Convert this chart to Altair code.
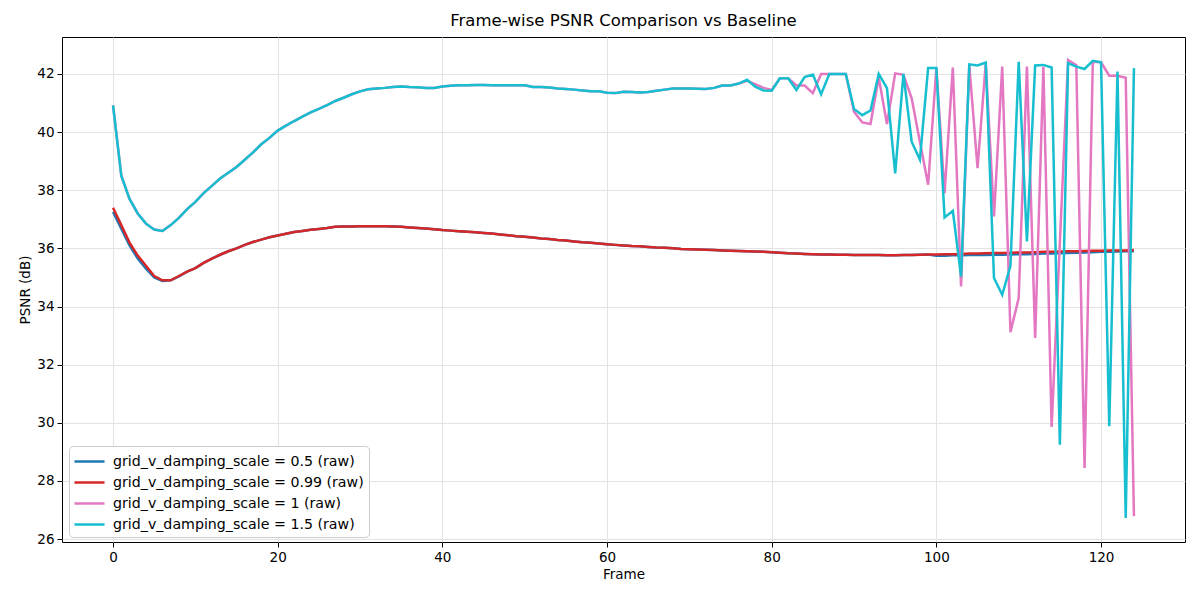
import altair as alt
import pandas as pd

# frame-wise PSNR values
frames = list(range(125))

# cyan / pink overlap for the first 77 frames
high_head = [
    40.92, 38.5, 37.7, 37.2, 36.85, 36.65, 36.6, 36.8, 37.05, 37.35,
    37.6, 37.9, 38.15, 38.4, 38.6, 38.8, 39.05, 39.3, 39.58, 39.8,
    40.05, 40.22, 40.38, 40.53, 40.68, 40.8, 40.93, 41.07, 41.18, 41.3,
    41.4, 41.47, 41.5, 41.52, 41.55, 41.57, 41.55, 41.54, 41.52, 41.52,
    41.57, 41.59, 41.61, 41.61, 41.62, 41.62, 41.61, 41.61, 41.61, 41.61,
    41.61, 41.55, 41.55, 41.53, 41.5, 41.48, 41.46, 41.43, 41.4, 41.4,
    41.35, 41.34, 41.39, 41.38, 41.36, 41.38, 41.42, 41.46, 41.5, 41.5,
    41.5, 41.49, 41.48, 41.52, 41.6, 41.6, 41.67,
]

cyan_tail = [
    41.8, 41.56, 41.43, 41.42, 41.85, 41.85, 41.45, 41.89, 41.98, 41.3,
    42.0, 42.0, 42.0, 40.79, 40.58, 40.74, 42.0, 41.51, 38.58, 42.0,
    39.67, 39.05, 42.2, 42.2, 37.06, 37.29, 35.03, 42.33, 42.29, 42.39,
    34.98, 34.4, 35.4, 42.42, 36.24, 42.29, 42.31, 42.22, 29.25, 42.37,
    42.25, 42.17, 42.45, 42.4, 29.88, 42.08, 26.73, 42.2,
]

pink_tail = [
    41.76, 41.65, 41.52, 41.45, 41.85, 41.85, 41.6, 41.6, 41.34, 42.0,
    42.0, 42.0, 42.0, 40.7, 40.33, 40.28, 41.88, 40.28, 42.02, 41.97,
    41.16, 39.67, 38.19, 42.2, 37.9, 42.22, 34.69, 42.3, 38.76, 42.36,
    37.1, 42.25, 33.12, 34.29, 42.25, 32.92, 42.25, 29.86, 36.2, 42.48,
    42.3, 28.45, 42.42, 42.4, 41.94, 41.94, 41.87, 26.79,
]

# red / blue curves share most of the middle section (frames 9-99)
low_mid = [
    35.2, 35.32, 35.5, 35.65, 35.78, 35.9, 36.0, 36.12, 36.22, 36.3,
    36.38, 36.44, 36.5, 36.56, 36.6, 36.64, 36.67, 36.7, 36.74, 36.75,
    36.75, 36.76, 36.76, 36.76, 36.76, 36.75, 36.74, 36.72, 36.7, 36.68,
    36.66, 36.63, 36.61, 36.59, 36.57, 36.55, 36.53, 36.51, 36.48, 36.45,
    36.42, 36.4, 36.37, 36.34, 36.32, 36.29, 36.27, 36.24, 36.21, 36.19,
    36.17, 36.14, 36.12, 36.1, 36.08, 36.07, 36.05, 36.03, 36.02, 36.0,
    35.98, 35.97, 35.96, 35.95, 35.94, 35.93, 35.92, 35.91, 35.9, 35.89,
    35.88, 35.87, 35.85, 35.83, 35.82, 35.81, 35.8, 35.79, 35.79, 35.78,
    35.78, 35.77, 35.77, 35.77, 35.77, 35.76, 35.76, 35.77, 35.77, 35.78,
    35.79,
]

red_head = [37.4, 36.8, 36.2, 35.75, 35.4, 35.05, 34.9, 34.9, 35.05]
red_tail = [
    35.79, 35.8, 35.8, 35.81, 35.82, 35.82, 35.83, 35.84, 35.84, 35.85,
    35.86, 35.86, 35.87, 35.88, 35.88, 35.89, 35.9, 35.9, 35.91, 35.92,
    35.92, 35.93, 35.93, 35.93, 35.94,
]

blue_head = [37.25, 36.68, 36.1, 35.65, 35.3, 35.0, 34.88, 34.9, 35.04]
blue_tail = [
    35.75, 35.75, 35.76, 35.76, 35.77, 35.77, 35.77, 35.78, 35.78, 35.79,
    35.8, 35.8, 35.81, 35.82, 35.82, 35.83, 35.84, 35.85, 35.86, 35.87,
    35.88, 35.88, 35.89, 35.9, 35.9,
]

series = [
    ("grid_v_damping_scale = 0.5 (raw)", blue_head + low_mid + blue_tail),
    ("grid_v_damping_scale = 0.99 (raw)", red_head + low_mid + red_tail),
    ("grid_v_damping_scale = 1 (raw)", high_head + pink_tail),
    ("grid_v_damping_scale = 1.5 (raw)", high_head + cyan_tail),
]
colors = ["#1f77b4", "#d62728", "#e377c2", "#17becf"]

rows = []
for order, (name, vals) in enumerate(series):
    for f, v in zip(frames, vals):
        rows.append({"Frame": f, "PSNR": v, "run": name, "order": order})
df = pd.DataFrame(rows)

names = [s[0] for s in series]

chart = alt.Chart(df).mark_line(strokeWidth=2.5, clip=True).encode(
    x=alt.X("Frame:Q", title="Frame",
            scale=alt.Scale(domain=[-6.2, 130.2], nice=False, zero=False),
            axis=alt.Axis(values=list(range(0, 121, 20)))),
    y=alt.Y("PSNR:Q", title="PSNR (dB)",
            scale=alt.Scale(domain=[25.9, 43.27], nice=False, zero=False),
            axis=alt.Axis(values=list(range(26, 43, 2)))),
    color=alt.Color("run:N", scale=alt.Scale(domain=names, range=colors),
                    legend=alt.Legend(title=None, orient="none", legendX=7, legendY=409,
                                      symbolType="M-1.67,0H1.67", symbolStrokeWidth=2.5,
                                      symbolSize=324, symbolOffset=5, labelOffset=13,
                                      labelFontSize=14.2,
                                      labelFont="DejaVu Sans", rowPadding=3,
                                      labelLimit=400, padding=5,
                                      strokeColor="#cccccc", fillColor="white",
                                      cornerRadius=4)),
    order=alt.Order("order:Q"),
).properties(
    width=1123, height=505,
    title=alt.Title("Frame-wise PSNR Comparison vs Baseline", fontSize=16.5,
                    fontWeight="normal", font="DejaVu Sans", offset=8),
    autosize=alt.AutoSizeParams(type="none"),
    padding={"left": 54, "top": 29, "right": 7, "bottom": 50},
).configure_view(
    stroke="black", strokeWidth=1
).configure_axis(
    domain=False, grid=True, gridColor="#e3e3e3", gridWidth=1,
    tickColor="black", tickSize=5, labelFontSize=13.5, titleFontSize=13.5,
    labelFont="DejaVu Sans", titleFont="DejaVu Sans", titleFontWeight="normal",
    labelColor="black", titleColor="black", labelPadding=3,
)

chart.save("out.html", embed_options={"renderer": "svg", "actions": False})
